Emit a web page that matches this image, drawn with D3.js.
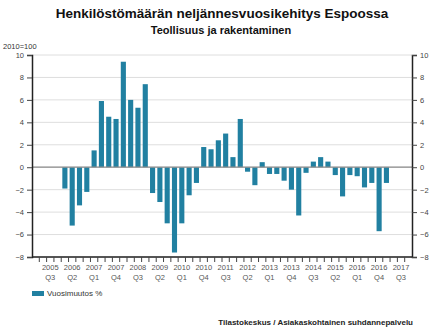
<!DOCTYPE html>
<html>
<head>
<meta charset="utf-8">
<script src="https://cdn.jsdelivr.net/npm/d3@7"></script>
<style>
  body { margin: 0; background: #fff; }
  svg { font-family: Arial, "Liberation Sans", sans-serif; }
</style>
</head>
<body>
<svg id="chart" width="444" height="333"></svg>
<script>
// quarters on the x axis, 2005 Q1 .. 2017 Q4
var years = d3.range(2005, 2018);
var quarters = [];
years.forEach(function (y) {
    [1, 2, 3, 4].forEach(function (q) { quarters.push(y + " Q" + q); });
});

// year-on-year change %, starting 2006 Q1
var firstQuarter = "2006 Q1";
var changes = [-1.9, -5.2, -3.4, -2.2, 1.5, 5.9, 4.5, 4.3, 9.4, 6.0, 5.3, 7.4,
    -2.3, -3.1, -5.0, -7.6, -5.0, -2.5, -1.4, 1.8, 1.6, 2.4, 3.0, 0.9,
    4.3, -0.4, -1.6, 0.45, -0.6, -0.6, -1.2, -2.0, -4.3, -0.5, 0.5, 0.9,
    0.5, -0.7, -2.6, -0.7, -0.8, -1.8, -1.4, -5.7, -1.4];

var yTicks = [10, 8, 6, 4, 2, 0, -2, -4, -6, -8];

(function () {
    var startIdx = quarters.indexOf(firstQuarter);
    var data = changes.map(function (v, i) {
        return {q: quarters[startIdx + i], value: v};
    });

    var svg = d3.select("#chart");
    var plotLeft = 32, plotRight = 412, plotTop = 55, plotBottom = 257;

    var x = d3.scaleBand().domain(quarters).range([plotLeft, plotRight]).paddingInner(0.3).paddingOuter(0.15);
    var xb = d3.scaleBand().domain(quarters).range([plotLeft, plotRight]);
    var y = d3.scaleLinear().domain([-8, 10]).range([plotBottom, plotTop]);

    // titles
    svg.append("text")
        .attr("x", 222).attr("y", 18)
        .attr("text-anchor", "middle")
        .style("font-size", "13.5px").style("font-weight", "bold").style("fill", "#111")
        .text("Henkilöstömäärän neljännesvuosikehitys Espoossa");
    svg.append("text")
        .attr("x", 221).attr("y", 34)
        .attr("text-anchor", "middle")
        .style("font-size", "11px").style("font-weight", "bold").style("fill", "#111")
        .text("Teollisuus ja rakentaminen");
    svg.append("text")
        .attr("x", 3).attr("y", 49)
        .style("font-size", "7.5px").style("fill", "#333")
        .text("2010=100");

    // grid
    svg.append("g").selectAll("line").data(yTicks).enter().append("line")
        .attr("x1", plotLeft).attr("x2", plotRight)
        .attr("y1", function (d) { return y(d); })
        .attr("y2", function (d) { return y(d); })
        .style("stroke", "#dedede")
        .style("stroke-width", 1);

    // bars
    svg.append("g").selectAll("rect").data(data).enter().append("rect")
        .attr("x", function (d) { return x(d.q); })
        .attr("width", x.bandwidth())
        .attr("y", function (d) { return y(Math.max(0, d.value)); })
        .attr("height", function (d) { return Math.abs(y(d.value) - y(0)); })
        .style("fill", "#2180a1");

    // zero line
    svg.append("line")
        .attr("x1", plotLeft).attr("x2", plotRight)
        .attr("y1", y(0)).attr("y2", y(0))
        .style("stroke", "#8c8c8c")
        .style("stroke-width", 1.3);

    // y axes
    var yLeft = svg.append("g")
        .attr("transform", "translate(" + plotLeft + ",0)")
        .call(d3.axisLeft(y).tickValues(yTicks).tickSize(5).tickPadding(3));
    var yRight = svg.append("g")
        .attr("transform", "translate(" + plotRight + ",0)")
        .call(d3.axisRight(y).tickValues(yTicks).tickSize(5).tickPadding(3));

    [yLeft, yRight].forEach(function (g) {
        g.select(".domain").style("stroke", "#222").style("stroke-width", 1.5);
        g.selectAll(".tick line").style("stroke", "#444");
        g.selectAll(".tick text").style("font-size", "7.5px").style("fill", "#444")
            .style("font-family", "Arial, 'Liberation Sans', sans-serif");
    });

    // x axis
    var xAxis = svg.append("g").attr("transform", "translate(0," + plotBottom + ")");
    xAxis.append("line")
        .attr("x1", plotLeft).attr("x2", plotRight)
        .style("stroke", "#222").style("stroke-width", 1.5);
    xAxis.selectAll(".qt").data(quarters.slice(1)).enter().append("line")
        .attr("x1", function (d) { return xb(d); })
        .attr("x2", function (d) { return xb(d); })
        .attr("y1", 0).attr("y2", 5)
        .style("stroke", "#444");

    var labelled = quarters.filter(function (d, i) { return i % 3 === 2; });
    var lbl = xAxis.selectAll(".lbl").data(labelled).enter().append("text")
        .attr("text-anchor", "middle")
        .style("font-size", "7.5px").style("fill", "#555");
    lbl.append("tspan")
        .attr("x", function (d) { return xb(d) + xb.bandwidth() / 2; })
        .attr("y", 13)
        .text(function (d) { return d.split(" ")[0]; });
    lbl.append("tspan")
        .attr("x", function (d) { return xb(d) + xb.bandwidth() / 2; })
        .attr("y", 23)
        .text(function (d) { return d.split(" ")[1]; });

    // legend
    svg.append("rect")
        .attr("x", 32).attr("y", 291).attr("width", 12).attr("height", 5)
        .style("fill", "#2180a1");
    svg.append("text")
        .attr("x", 47).attr("y", 296)
        .style("font-size", "8px").style("fill", "#333")
        .text("Vuosimuutos %");

    // source
    svg.append("text")
        .attr("x", 413).attr("y", 325)
        .attr("text-anchor", "end")
        .style("font-size", "8px").style("font-weight", "bold").style("fill", "#222")
        .text("Tilastokeskus / Asiakaskohtainen suhdannepalvelu");
})();
</script>
</body>
</html>
